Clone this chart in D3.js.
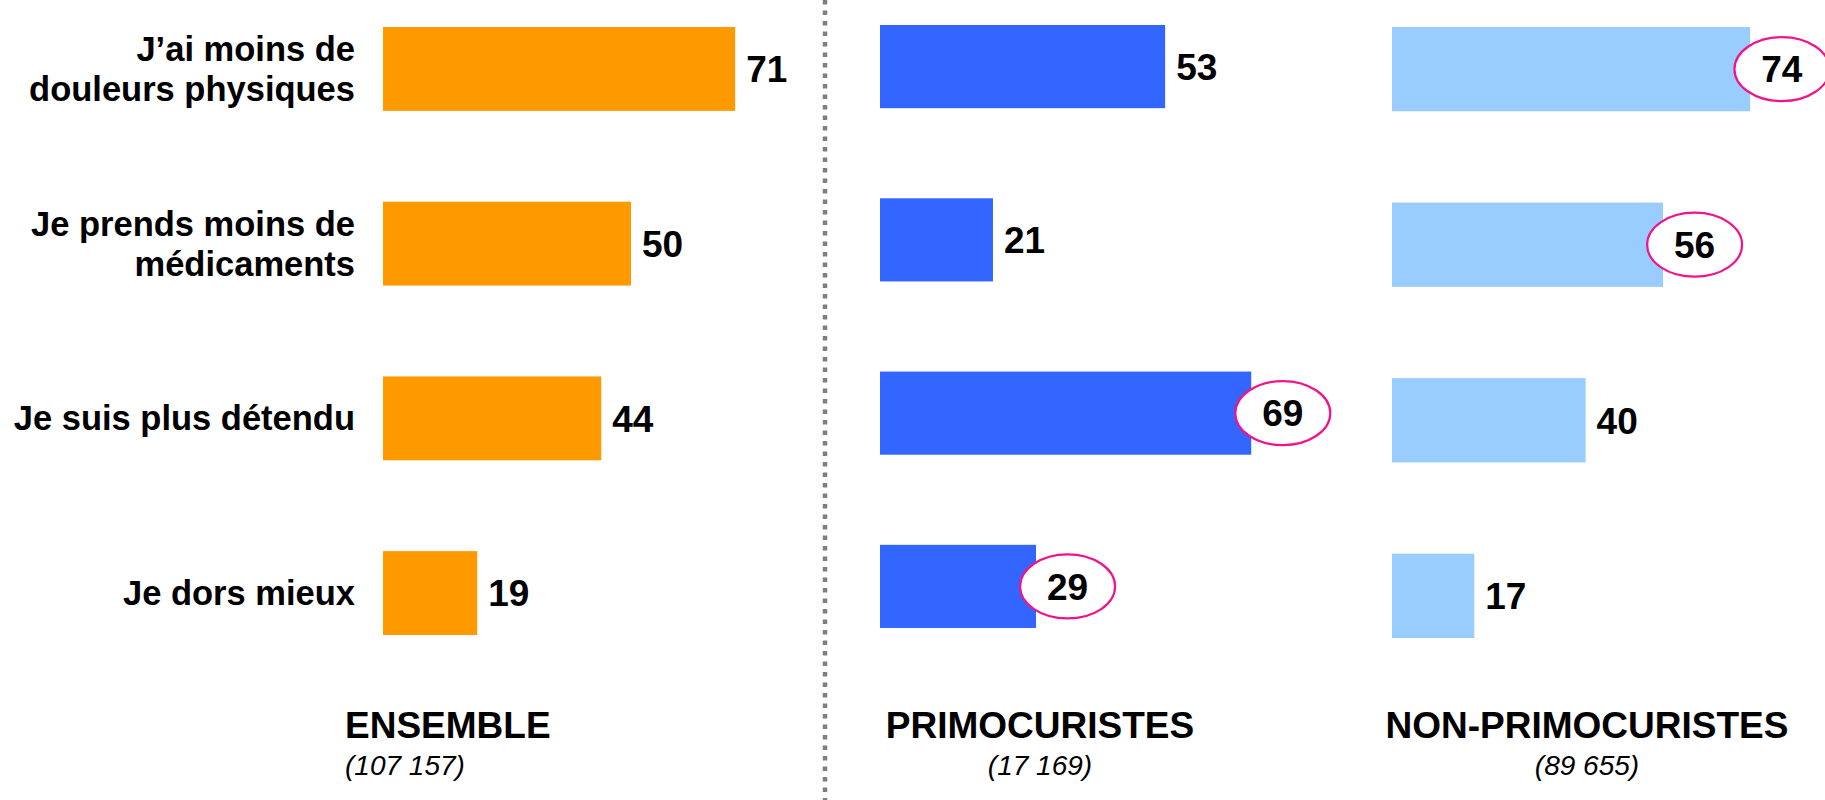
<!DOCTYPE html>
<html>
<head>
<meta charset="utf-8">
<script src="https://cdn.jsdelivr.net/npm/d3@7"></script>
<style>
	body { margin: 0; background: #fff; }
	text { font-family: "Liberation Sans", Arial, sans-serif; fill: #000; }
</style>
</head>
<body>
<svg id="chart" width="1825" height="800"></svg>
<script>
// data
var categories = ['J’ai moins de\ndouleurs physiques', 'Je prends moins de\nmédicaments', 'Je suis plus détendu', 'Je dors mieux'];
var groups = ['ENSEMBLE', 'PRIMOCURISTES', 'NON-PRIMOCURISTES'];
var groupCounts = ['(107 157)', '(17 169)', '(89 655)'];
var ensembleValues = [71, 50, 44, 19];
var primoValues = [53, 21, 69, 29];
var nonPrimoValues = [74, 56, 40, 17];
var ensembleCircled = [false, false, false, false];
var primoCircled = [false, false, true, true];
var nonPrimoCircled = [true, true, false, false];

var svg = d3.select('#chart');

// each panel has its own scale, as in the original slide
var panels = [
	{values: ensembleValues, circled: ensembleCircled, color: '#FF9900', x: [383, 879], y: [27, 635], titleX: 345, anchor: 'start'},
	{values: primoValues, circled: primoCircled, color: '#3366FF', x: [880, 1418], y: [25, 628], titleX: 1040, anchor: 'middle'},
	{values: nonPrimoValues, circled: nonPrimoCircled, color: '#99CCFF', x: [1392, 1876], y: [27, 638], titleX: 1587, anchor: 'middle'}
];

//dotted separator
svg.append('line')
	.attr('x1', 825).attr('x2', 825)
	.attr('y1', 0).attr('y2', 800)
	.attr('stroke', '#7f7f7f')
	.attr('stroke-width', 4.5)
	.attr('stroke-dasharray', '4.5 6');

// category labels, on the first panel's rows
var yFirst = d3.scaleBand().domain(categories).range(panels[0].y).paddingInner(0.52).paddingOuter(0);
var catLabels = svg.selectAll('text.cat')
	.data(categories)
	.enter()
	.append('text')
	.attr('class', 'cat')
	.attr('text-anchor', 'end')
	.style('font-size', '34.5px')
	.style('font-weight', 'bold');

catLabels.each(function(d){
	var lines = d.split('\n');
	var cy = yFirst(d) + yFirst.bandwidth() / 2;
	d3.select(this).selectAll('tspan')
		.data(lines)
		.enter()
		.append('tspan')
		.attr('x', 355)
		.attr('y', function(l, i){return cy + 12 - (lines.length - 1) * 20 + i * 40;})
		.text(function(l){return l;});
});

panels.forEach(function(p, gi){
	var x = d3.scaleLinear().domain([0, 100]).range(p.x);
	var y = d3.scaleBand().domain(categories).range(p.y).paddingInner(0.52).paddingOuter(0);
	var rows = categories.map(function(c, i){return {cat: c, value: p.values[i], circled: p.circled[i]};});
	var g = svg.append('g').attr('class', 'panel');

	g.selectAll('rect')
		.data(rows)
		.enter()
		.append('rect')
		.attr('x', x(0))
		.attr('y', function(d){return y(d.cat);})
		.attr('width', function(d){return x(d.value) - x(0);})
		.attr('height', y.bandwidth())
		.attr('fill', p.color);

	var labels = g.selectAll('g.val')
		.data(rows)
		.enter()
		.append('g')
		.attr('class', 'val');

	labels.append('text')
		.attr('x', function(d){return x(d.value) + 11;})
		.attr('y', function(d){return y(d.cat) + y.bandwidth() / 2;})
		.attr('dy', '0.36em')
		.style('font-size', '37px')
		.style('font-weight', 'bold')
		.text(function(d){return d.value;});

	// pink ellipses around the highlighted values
	labels.filter(function(d){return d.circled;}).each(function(d){
		var t = d3.select(this).select('text');
		var b = t.node().getBBox();
		d3.select(this).insert('ellipse', 'text')
			.attr('cx', b.x + b.width / 2)
			.attr('cy', y(d.cat) + y.bandwidth() / 2)
			.attr('rx', 47.5)
			.attr('ry', 32)
			.attr('fill', '#fff')
			.attr('stroke', '#F0148C')
			.attr('stroke-width', 2.2);
	});

	svg.append('text')
		.attr('x', p.titleX)
		.attr('y', 738)
		.attr('text-anchor', p.anchor)
		.style('font-size', '37px')
		.style('font-weight', 'bold')
		.text(groups[gi]);

	svg.append('text')
		.attr('x', p.titleX)
		.attr('y', 775)
		.attr('text-anchor', p.anchor)
		.style('font-size', '28px')
		.style('font-style', 'italic')
		.text(groupCounts[gi]);
});
</script>
</body>
</html>
